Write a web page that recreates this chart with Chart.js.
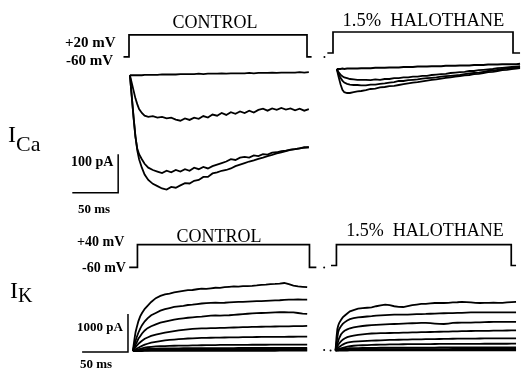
<!DOCTYPE html>
<html>
<head>
<meta charset="utf-8">
<script src="https://cdn.jsdelivr.net/npm/chart.js@4.4.1/dist/chart.umd.min.js"></script>
<style>
  html, body { margin:0; padding:0; background:#fff; }
  #fig { position:relative; width:521px; height:373px; overflow:hidden; background:#fff; }
  canvas { position:absolute; }
  .t { position:absolute; font-family:"Liberation Serif","DejaVu Serif",serif; color:#000; line-height:1; white-space:pre; }
</style>
</head>
<body>
<div id="fig">
  <canvas id="c1" width="335" height="215" style="left:0;top:0"></canvas>
  <canvas id="c2" width="201" height="215" style="left:320px;top:0"></canvas>
  <canvas id="c3" width="335" height="158" style="left:0;top:215px"></canvas>
  <canvas id="c4" width="201" height="158" style="left:320px;top:215px"></canvas>
</div>
<script>
// ---------------- DATA (time in ms, current in pA, voltage in mV) ----------------
// I_Ca, control
const caCtrlT = [0,2,4,6,8,10,13,16,20,25,30,35,40,45,50,55,60,65,70,75,80,85,90,95,100,105,110,115,120,125,130,135,140,145,150,155,160,165,170,175,180,185,190,195];
const caCtrl1 = [0,0,0,0,0,0,0,1,1, 1,1,2,2,2,2,3,3,3,3, 4,3,4,4,4,5,4,5,5,5, 5,6,5,6,6,6,7,6,7,7, 7,7,8,7,8];
const caCtrl2 = [0,-20,-40,-60,-75,-88,-98,-105,-108, -106,-110,-108,-112,-110,-115,-118,-112,-116,-110, -113,-106,-110,-102,-105,-98,-103,-96,-100,-94, -98,-92,-97,-90,-87,-92,-86,-90,-85,-89, -86,-91,-87,-92,-88];
const caCtrl3 = [0,-55,-110,-160,-190,-205,-218,-230,-240, -246,-250,-254,-248,-252,-246,-250,-244,-248,-240, -244,-238,-242,-236,-232,-228,-224,-218,-220,-214, -212,-214,-208,-210,-205,-206,-201,-200,-197,-196, -193,-192,-190,-187,-188];
const caCtrl4 = [0,-55,-110,-158,-195,-218,-240,-258,-272, -282,-288,-294,-297,-290,-292,-286,-280,-281,-274, -272,-264,-264,-255,-252,-248,-246,-242,-236,-232, -228,-224,-221,-217,-214,-210,-207,-203,-200,-197, -194,-192,-190,-188,-186];
const caCtrlVT = [-7,-1,-1,193,193,198];
const caCtrlV  = [-60,-60,20,20,-60,-60];

// I_Ca, 1.5% halothane
const caHaloT = [4,6,8,10,12,15,18,22,26,30,35,40,45,50,55,60,65,70,75,80,85,90,95,100,105,110,115,120,125,130,135,140,145,150,155,160,165,170,175,180,185,190,195,199];
const caHalo1 = [0,0,0,1,0,1,1,1,1,2, 2,2,3,3,3,4,4,4,5,5, 5,6,6,6,7,7,7,8,8,8, 9,9,9,10,10,10,11,11,11,12, 12,12,12, 13];
const caHalo2 = [0,-8,-14,-18,-21,-23,-25,-26,-27,-27, -27,-28,-26,-27,-25,-25,-23,-23,-21,-21, -19,-19,-17,-17,-15,-14,-13,-12,-10,-9, -8,-7,-5,-5,-3,-2,-1,0,2,3, 4,5,6, 7];
const caHalo3 = [0,-12,-22,-29,-34,-37,-39,-40,-40,-41, -41,-39,-39,-37,-36,-34,-33,-30,-30,-28, -27,-26,-24,-23,-22,-21,-19,-18,-17,-16, -15,-13,-11,-10,-9,-7,-5,-4,-2,0, 1,3,4, 5];
const caHalo4 = [0,-20,-38,-52,-58,-60,-60,-58,-56,-55, -53,-50,-49,-46,-45,-43,-42,-40,-38,-36, -34,-33,-31,-29,-27,-26,-24,-22,-21,-19, -18,-16,-15,-13,-12,-10,-8,-7,-5,-3, -2,0,1, 2];
const caHaloVT = [-6,0,0,191.5,191.5,199];
const caHaloV  = [-60,-60,20,20,-60,-60];

// I_K, control
const ikCtrlT = [0,1,2,3,4,6,8,10,13,16,20,25,30,35,40,45,50,55,60,65,70,75,80,85,90,95,100,105,110,115,120,125,130,135,140,145,150,155,160,165,170,175,180,185,190];
const ikCtrl1 = [0,180,350,500,600,780,910,1000,1110,1190,1290, 1390,1450,1490,1510,1540,1560,1580,1600,1605,1625, 1640,1635,1650,1665,1660,1680,1690,1700,1695,1705, 1710,1715,1725,1740,1745,1760,1765,1775,1790,1760, 1720,1700,1690,1680];
const ikCtrl2 = [0,100,190,270,350,480,590,680,780,860,940, 1000,1060,1100,1130,1160,1175,1190,1210,1220,1235, 1250,1260,1265,1270,1265,1270,1280,1285,1290,1295, 1300,1305,1310,1315,1320,1325,1330,1335,1345,1350, 1350,1355,1350,1350];
const ikCtrl3 = [0,60,115,165,215,320,390,460,540,600,650, 700,745,775,800,825,845,860,875,885,895, 905,920,930,935,930,935,940,950,960,970, 980,990,995,1000,1005,1010,1015,1020,1020,1015, 1015,1000,985,975];
const ikCtrl4 = [0,35,70,100,130,185,230,270,320,355,395, 430,455,480,500,520,540,555,570,580,588, 593,597,600,603,607,610,615,618,622,626, 630,633,636,638,640,642,644,646,648,650, 652,654,656,658];
const ikCtrl5 = [0,15,30,45,60,85,110,135,165,190,220, 240,260,280,290,300,310,320,328,333,338, 342,345,348,350,352,354,356,358,360,363, 366,367,368,369,370,371,372,373,373,374, 374,375,375,375];
const ikCtrl6 = [0,8,16,24,32,45,58,70,85,98,110, 120,125,130,134,137,139,141,143,145,147, 150,152,154,156,158,159,160,161,161,162, 162,163,163,164,164,165,165,165,166,166, 166,167,167,167];
const ikCtrl7 = [0,5,10,15,20,28,35,40,47,52,57, 60,62,64,66,67,68,69,70,71,71, 72,72,73,73,73,74,74,74,75,75, 75,75,76,76,76,76,77,77,77,77, 78,78,78,78];
const ikCtrl8 = [0,2,4,6,8,11,14,16,19,21,23, 25,26,27,28,29,29,30,30,31,31, 31,32,32,32,33,33,33,33,34,34, 34,34,34,35,35,35,35,35,35,36, 36,36,36,36];
const ikCtrl9 = [0,1,1,2,2,3,4,4,5,5,6, 6,7,7,7,8,8,8,8,9,9, 9,9,9,10,10,10,10,10,10,10, 11,11,11,11,11,11,11,12,12,12, 12,12,12,12];
const ikCtrlVT = [-4,5,5,192.5,192.5,200];
const ikCtrlV  = [-60,-60,40,40,-60,-60];

// I_K, 1.5% halothane
const ikHaloT = [0,1,2,3,4,6,8,10,13,16,20,25,30,35,40,45,50,55,60,65,70,75,80,85,90,95,100,105,110,115,120,125,130,135,140,145,150,155,160,165,170,175,180,185,190,195,200];
const ikHalo1 = [0,330,560,660,720,800,870,915,975,1030,1065, 1100,1115,1125,1135,1165,1190,1210,1195,1165,1150, 1145,1170,1195,1210,1225,1230,1240,1250,1255,1250, 1255,1265,1270,1280,1275,1265,1255,1250,1255,1255, 1260,1255,1255,1265,1275,1280];
const ikHalo2 = [0,180,340,490,560,640,700,740,790,825,850, 870,882,895,905,918,925,932,940,946,946, 945,946,950,955,960,962,967,972,978,980, 983,985,988,992,998,1003,1004,1004,1004,1004, 1004,1004,1004,1004,1004,1004];
const ikHalo3 = [0,90,170,250,320,420,480,520,555,585,610, 630,645,658,668,675,682,688,694,698,702, 707,712,717,722,727,729,722,710,700,697, 710,725,730,732,734,736,738,742,746,750, 753,754,754,754,754,754];
const ikHalo4 = [0,55,105,150,185,240,285,315,350,372,392, 410,425,438,447,452,455,458,460,462,465, 468,471,475,478,481,484,487,490,493,496, 499,502,505,508,511,513,514,516,518,519, 521,523,525,526,528,529];
const ikHalo5 = [0,25,50,75,95,125,155,180,205,220,232, 240,248,254,258,263,268,272,277,280,283, 286,288,290,293,295,297,299,301,303,305, 307,309,311,312,313,314,315,316,317,318, 318,319,319,320,320,321];
const ikHalo6 = [0,10,20,30,40,55,70,85,100,112,125, 132,138,143,147,151,154,157,160,162,163, 164,165,166,167,168,169,170,171,172,172, 173,173,174,174,175,175,176,176,177,177, 177,178,178,178,179,179];
const ikHalo7 = [0,6,12,18,24,32,40,46,52,56,60, 62,64,66,67,68,69,70,71,72,72, 73,73,74,74,74,75,75,75,76,76, 76,76,77,77,77,77,78,78,78,78, 79,79,79,79,80,80];
const ikHalo8 = [0,3,6,9,11,14,17,19,22,24,26, 27,28,29,30,30,31,31,32,32,33, 33,33,34,34,34,34,35,35,35,35, 35,36,36,36,36,36,37,37,37,37, 37,38,38,38,38,38];
const ikHalo9 = [0,1,2,2,3,4,4,5,5,6,6, 7,7,7,8,8,8,8,9,9,9, 9,9,10,10,10,10,10,10,10,11, 11,11,11,11,11,11,11,12,12,12, 12,12,12,12,12,12];
const ikHaloVT = [-5,1,1,194.7,194.7,200];
const ikHaloV  = [-60,-60,40,40,-60,-60];

// calibration bars
const caBar = { ms: 50, pA: 100 };
const ikBar = { ms: 50, pA: 1000 };

// ---------------- LAYOUT / DRAWING ----------------
function pts(t, v) { return t.map((x, i) => ({ x: x, y: v[i] })); }
function trace(t, v, w) { return { data: pts(t, v), borderColor: '#000', borderWidth: w || 1.8, pointRadius: 0, showLine: true, tension: 0, yAxisID: 'y' }; }
function volt(t, v) { return { data: pts(t, v), borderColor: '#000', borderWidth: 1.7, pointRadius: 0, showLine: true, tension: 0, yAxisID: 'v' }; }
function dot(x, y, axis) { return { data: [{ x: x, y: y }], pointRadius: 1, pointBackgroundColor: '#000', pointBorderWidth: 0, showLine: false, yAxisID: axis }; }

// panel geometry: page pixel of (t=0, I=0), px per ms, px per pA, page y of -60 mV, px per mV
function panel(id, box, g, datasets) {
  const x0 = (box.left - g.ox) / g.pxMs, x1 = (box.left + box.w - g.ox) / g.pxMs;
  const yMax = (g.oy - box.top) / g.pxI, yMin = (g.oy - box.top - box.h) / g.pxI;
  const vMax = -60 + (g.vy - box.top) / g.pxV, vMin = vMax - box.h / g.pxV;
  new Chart(document.getElementById(id), {
    type: 'scatter',
    data: { datasets: datasets },
    options: {
      responsive: false, animation: false, events: [],
      layout: { padding: 0 },
      plugins: { legend: { display: false }, tooltip: { enabled: false } },
      scales: {
        x: { type: 'linear', display: false, min: x0, max: x1 },
        y: { type: 'linear', display: false, min: yMin, max: yMax },
        v: { type: 'linear', display: false, min: vMin, max: vMax }
      }
    }
  });
}
function bar(cornerT, cornerI, b) {
  return { data: [{ x: cornerT - b.ms, y: cornerI }, { x: cornerT, y: cornerI }, { x: cornerT, y: cornerI + b.pA }],
           borderColor: '#000', borderWidth: 1.5, pointRadius: 0, showLine: true, tension: 0, yAxisID: 'y' };
}

panel('c1', { left: 0, top: 0, w: 335, h: 215 }, { ox: 129, oy: 74, pxMs: 0.94, pxI: 0.40, vy: 55, pxV: 23 / 80 }, [
  volt(caCtrlVT, caCtrlV), dot(212, -60, 'v'),
  trace(caCtrlT, caCtrl1), trace(caCtrlT, caCtrl2), trace(caCtrlT, caCtrl3), trace(caCtrlT, caCtrl4),
  bar(-12.8, -305, caBar)
]);
panel('c2', { left: 320, top: 0, w: 201, h: 215 }, { ox: 333, oy: 69, pxMs: 0.94, pxI: 0.40, vy: 53, pxV: 21 / 80 }, [
  volt(caHaloVT, caHaloV),
  trace(caHaloT, caHalo1, 2), trace(caHaloT, caHalo2), trace(caHaloT, caHalo3), trace(caHaloT, caHalo4)
]);
panel('c3', { left: 0, top: 215, w: 335, h: 158 }, { ox: 132, oy: 354, pxMs: 0.94, pxI: 0.04, vy: 266, pxV: 0.24 }, [
  volt(ikCtrlVT, ikCtrlV), dot(208.5, -60, 'v'), dot(208.5, 25, 'y'),
  trace(ikCtrlT, ikCtrl1), trace(ikCtrlT, ikCtrl2), trace(ikCtrlT, ikCtrl3), trace(ikCtrlT, ikCtrl4),
  trace(ikCtrlT, ikCtrl5), trace(ikCtrlT, ikCtrl6), trace(ikCtrlT, ikCtrl7, 2), trace(ikCtrlT, ikCtrl8, 2), trace(ikCtrlT, ikCtrl9, 2.2),
  bar(-5.3, -25, ikBar)
]);
panel('c4', { left: 320, top: 215, w: 201, h: 158 }, { ox: 332, oy: 353.5, pxMs: 0.94, pxI: 0.04, vy: 264, pxV: 0.22 }, [
  volt(ikHaloVT, ikHaloV), dot(-5.5, 0, 'y'),
  trace(ikHaloT, ikHalo1), trace(ikHaloT, ikHalo2), trace(ikHaloT, ikHalo3), trace(ikHaloT, ikHalo4),
  trace(ikHaloT, ikHalo5), trace(ikHaloT, ikHalo6), trace(ikHaloT, ikHalo7, 2), trace(ikHaloT, ikHalo8, 2), trace(ikHaloT, ikHalo9, 2.2)
]);

// ---------------- TEXT ----------------
const fig = document.getElementById('fig');
function label(html, x, cy, size, anchor, bold) {
  const d = document.createElement('div');
  d.className = 't';
  d.innerHTML = html;
  d.style.fontSize = size + 'px';
  d.style.fontWeight = bold ? 'bold' : 'normal';
  d.style.left = x + 'px';
  d.style.top = cy + 'px';
  d.style.transform = 'translate(' + (anchor === 'center' ? '-50%' : '0') + ',-50%)';
  fig.appendChild(d);
}
label('CONTROL', 215, 22, 18, 'center');
label('1.5%  HALOTHANE', 423.5, 20, 18.5, 'center');
label('CONTROL', 219, 236, 18, 'center');
label('1.5%  HALOTHANE', 425, 230, 18, 'center');
label('+20 mV', 65, 42, 15, 'left', true);
label('-60 mV', 66, 60, 15, 'left', true);
label('100 pA', 71, 162, 14, 'left', true);
label('50 ms', 78, 208, 13, 'left', true);
label('+40 mV', 77, 242, 14, 'left', true);
label('-60 mV', 82, 268, 14, 'left', true);
label('1000 pA', 77, 326, 13, 'left', true);
label('50 ms', 80, 363, 13, 'left', true);
label('I<span style="font-size:22px;position:relative;top:9px">Ca</span>', 8, 134, 24, 'left');
label('I<span style="font-size:20px;position:relative;top:4px">K</span>', 10, 290, 24, 'left');
</script>
</body>
</html>
